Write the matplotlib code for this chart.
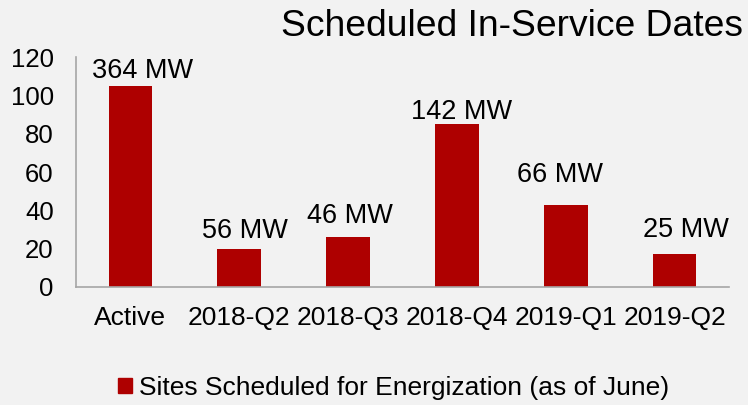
import matplotlib.pyplot as plt
from matplotlib.patches import Patch

# --- Data ---
categories = ["Active", "2018-Q2", "2018-Q3", "2018-Q4", "2019-Q1", "2019-Q2"]
sites = [105, 20, 26, 85, 43, 17]
mw_labels = ["364 MW", "56 MW", "46 MW", "142 MW", "66 MW", "25 MW"]
series_name = "Sites Scheduled for Energization (as of June)"

# label nudges in pixels (x, y above bar top)
label_dx = [12, 6, 2, 5, -6, 11]
label_dy = [8, 11, 14, 5, 23, 17]

bar_color = "#AE0000"
bg = "#F2F2F2"
plt.rcParams["font.family"] = ["Liberation Sans", "DejaVu Sans"]

W, H = 748, 405
fig = plt.figure(figsize=(W / 100, H / 100), dpi=100, facecolor=bg)
ax = fig.add_axes([76 / W, (H - 287) / H, (729 - 76) / W, (287 - 57) / H])
ax.set_facecolor(bg)

x = range(len(categories))
bars = ax.bar(x, sites, width=0.40, color=bar_color)

for b, lab, dx, dy in zip(bars, mw_labels, label_dx, label_dy):
    ax.annotate(lab, (b.get_x() + b.get_width() / 2, b.get_height()),
                xytext=(dx * 0.72, dy * 0.72), textcoords="offset points",
                ha="center", va="baseline", fontsize=19.5)

ax.set_xlim(-0.5, len(categories) - 0.5)
ax.set_ylim(0, 120)
ax.set_yticks(range(0, 121, 20))
ax.set_xticks(list(x))
ax.set_xticklabels(categories)
ax.tick_params(axis="y", length=0, pad=16, labelsize=18.5)
ax.tick_params(axis="x", length=0, pad=14, labelsize=19)
for s in ["top", "right"]:
    ax.spines[s].set_visible(False)
for s in ["left", "bottom"]:
    ax.spines[s].set_color("#A6A6A6")
    ax.spines[s].set_linewidth(1.2)

fig.text(743 / W, (H - 36) / H, "Scheduled In-Service Dates",
         ha="right", va="baseline", fontsize=26.8)

fig.legend(handles=[Patch(color=bar_color, label=series_name)],
           loc="center left", bbox_to_anchor=(118 / W, (H - 388) / H),
           frameon=False, fontsize=19, handlelength=0.53, handleheight=0.53,
           handletextpad=0.25, borderpad=0, borderaxespad=0)

fig.savefig("out.png", dpi=100, facecolor=bg)
